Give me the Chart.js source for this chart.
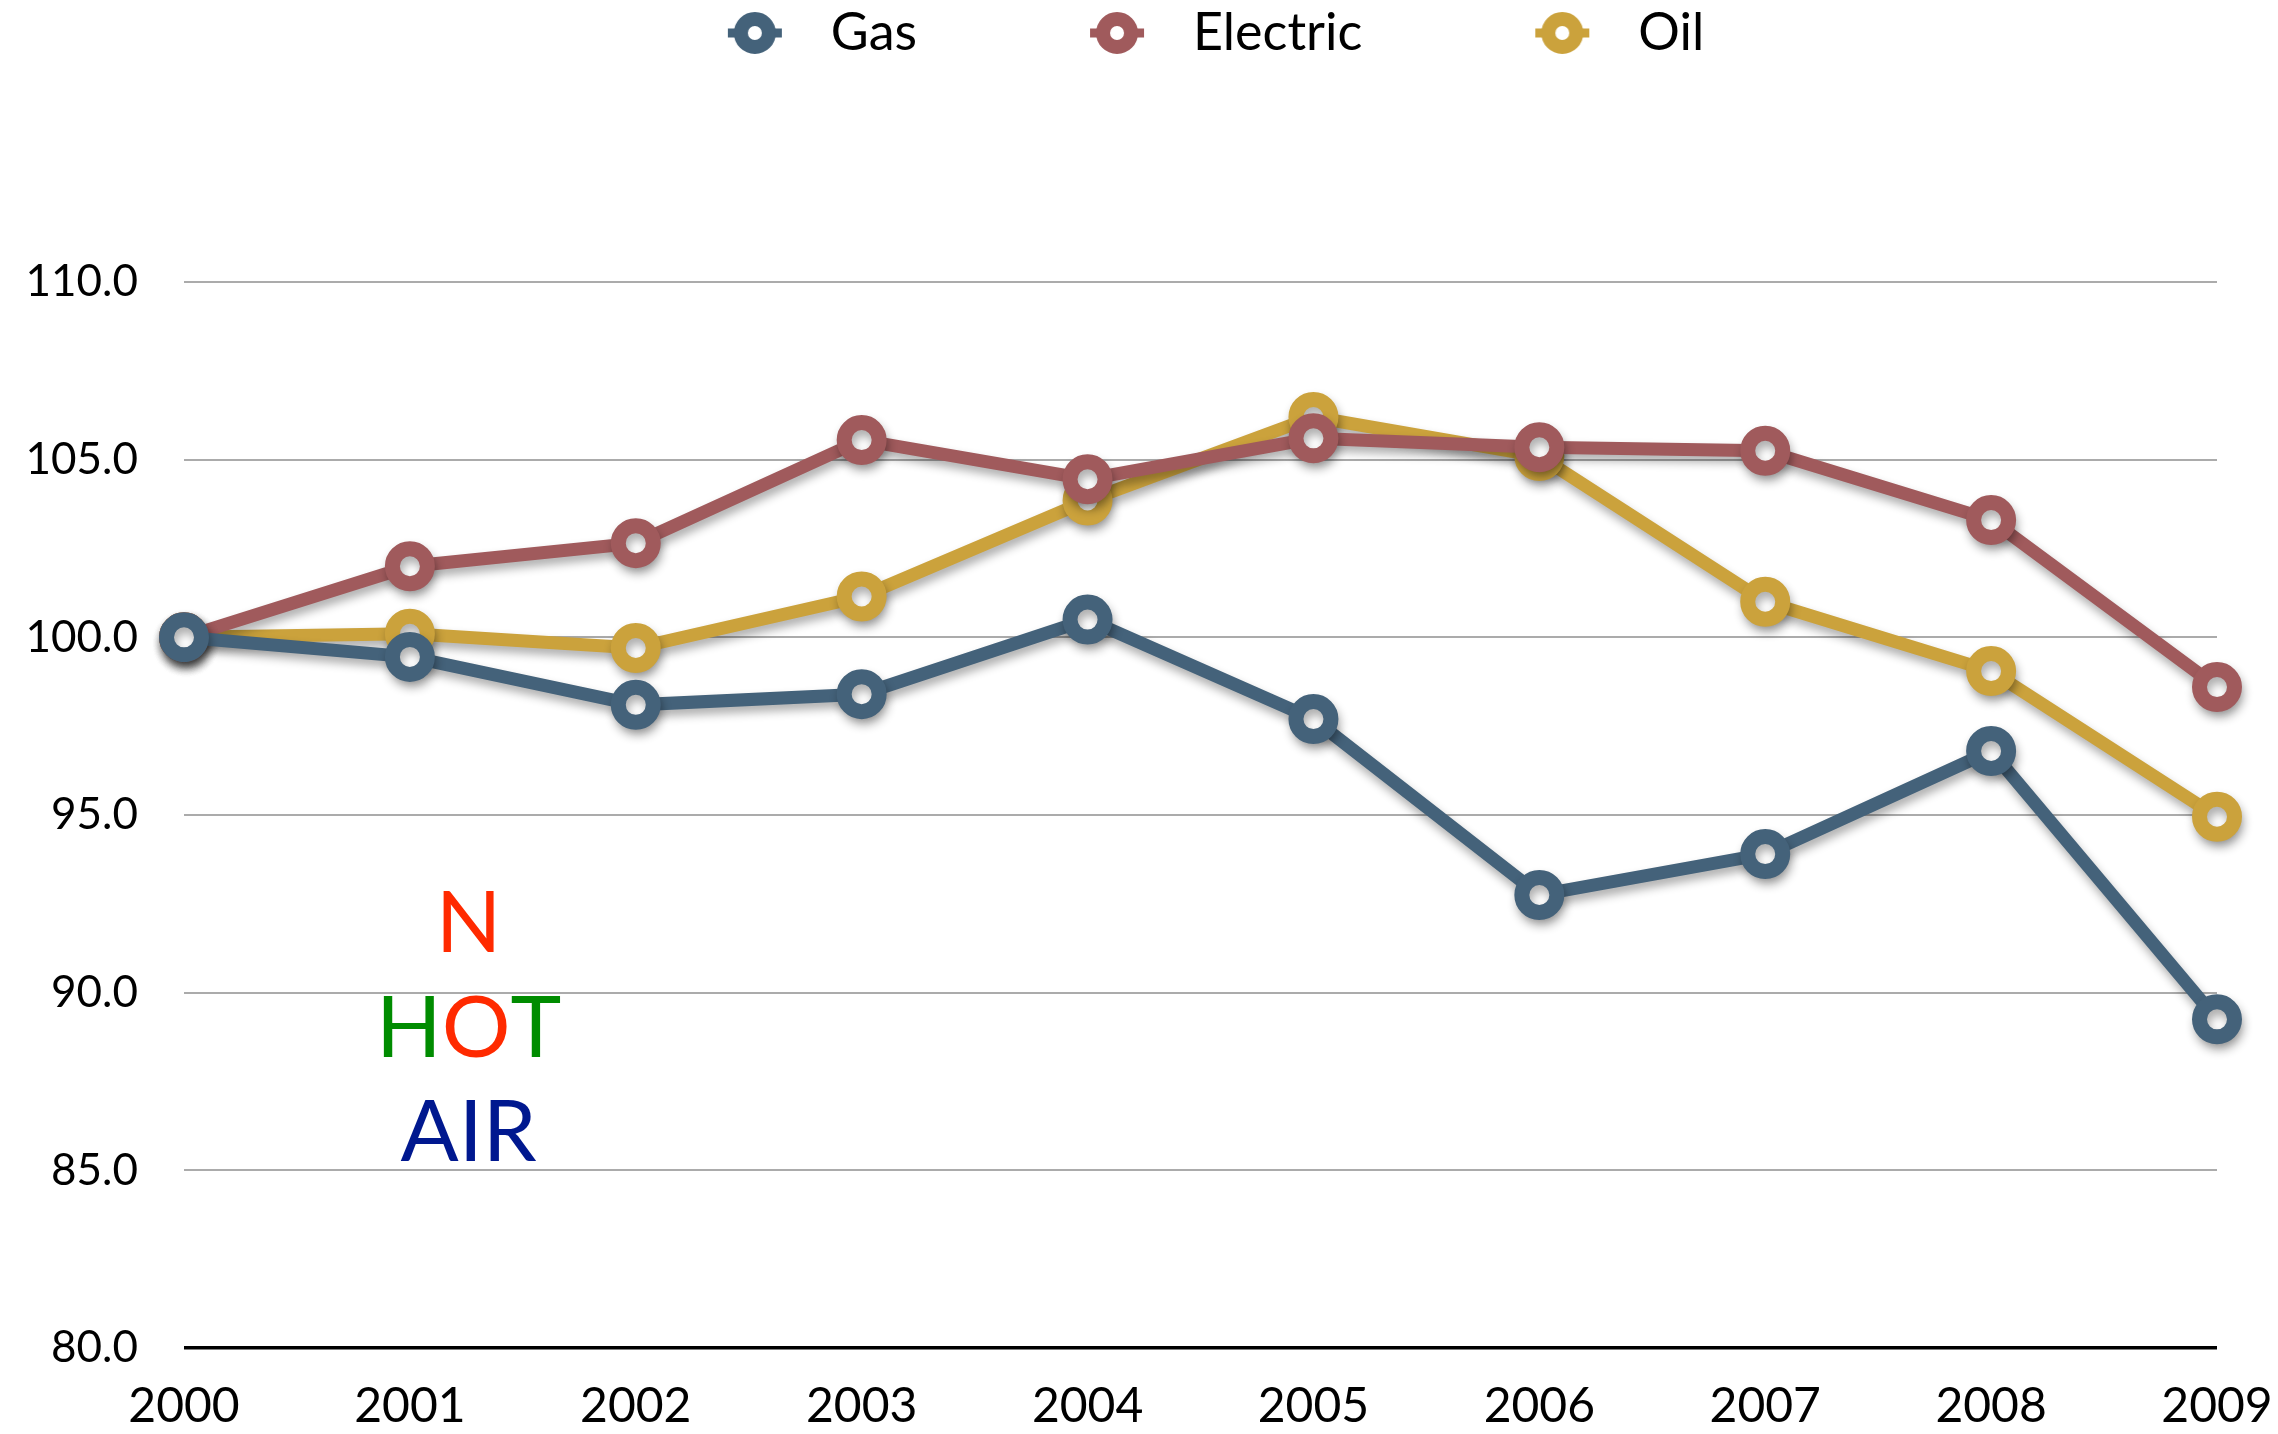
<!DOCTYPE html>
<html>
<head>
<meta charset="utf-8">
<script src="https://cdn.jsdelivr.net/npm/chart.js@4.4.1/dist/chart.umd.min.js"></script>
<style>
  html, body { margin: 0; padding: 0; background: #fff; }
  #wrap { width: 2278px; height: 1434px; }
</style>
</head>
<body>
<div id="wrap"><canvas id="c" width="2278" height="1434"></canvas></div>
<script>
const years = ['2000','2001','2002','2003','2004','2005','2006','2007','2008','2009'];
const gasValues      = [100.0, 99.45, 98.1, 98.4, 100.5, 97.7, 92.75, 93.9, 96.8, 89.25];
const electricValues = [100.0, 102.0, 102.65, 105.55, 104.45, 105.6, 105.35, 105.25, 103.3, 98.6];
const oilValues      = [100.0, 100.1, 99.7, 101.15, 103.85, 106.2, 105.1, 101.0, 99.05, 94.95];
const seriesNames = ['Gas', 'Electric', 'Oil'];
const seriesColors = ['#44627a', '#a05a5c', '#cba23c'];
const yTicks = [80, 85, 90, 95, 100, 105, 110];

const FONT = 'Lato, "Open Sans", sans-serif';

function legendMarker(color) {
  const c = document.createElement('canvas');
  c.width = 58; c.height = 46;
  const g = c.getContext('2d');
  g.strokeStyle = color;
  g.lineWidth = 9;
  g.beginPath(); g.moveTo(2, 23); g.lineTo(56, 23); g.stroke();
  g.beginPath(); g.arc(29, 23, 14, 0, Math.PI * 2);
  g.fillStyle = '#fff'; g.fill();
  g.lineWidth = 14; g.stroke();
  return c;
}
const markers = seriesColors.map(legendMarker);

const shadowPlugin = {
  id: 'shadow',
  beforeDatasetsDraw(chart) {
    const ctx = chart.ctx;
    ctx.save();
    ctx.shadowColor = 'rgba(0,0,0,0.32)';
    ctx.shadowBlur = 10;
    ctx.shadowOffsetX = 2;
    ctx.shadowOffsetY = 6;
  },
  afterDatasetsDraw(chart) { chart.ctx.restore(); }
};

// Legend: wide horizontal item spacing, legend row near the top, chart area starting lower.
const legendLayout = {
  id: 'legendLayout',
  beforeInit(chart) {
    const lg = chart.legend;
    const origFit = lg.fit;
    lg.fit = function () { origFit.apply(lg, arguments); lg.height = 282; };
    const origDraw = lg.draw;
    lg.draw = function () {
      const ctx = chart.ctx;
      ctx.save();
      ctx.translate(4, -143);
      origDraw.apply(lg, arguments);
      ctx.restore();
    };
  }
};

const notePlugin = {
  id: 'note',
  afterDraw(chart) {
    const ctx = chart.ctx, x = chart.scales.x, y = chart.scales.y;
    const cx = x.getPixelForValue(1.26);
    ctx.save();
    ctx.font = '86px ' + FONT;
    ctx.textBaseline = 'middle';
    const lines = [
      { v: 91.93, parts: [['N', '#ff2a00']] },
      { v: 88.97, parts: [['H', '#008c00'], ['O', '#ff2a00'], ['T', '#008c00']] },
      { v: 86.04, parts: [['AIR', '#00188f']] }
    ];
    lines.forEach(l => {
      const total = l.parts.reduce((s, p) => s + ctx.measureText(p[0]).width, 0);
      let px = cx - total / 2;
      const py = y.getPixelForValue(l.v);
      ctx.textAlign = 'left';
      l.parts.forEach(p => {
        ctx.fillStyle = p[1];
        ctx.fillText(p[0], px, py);
        px += ctx.measureText(p[0]).width;
      });
    });
    ctx.restore();
  }
};

function ds(i, data) {
  return {
    label: seriesNames[i],
    data: data,
    borderColor: seriesColors[i],
    backgroundColor: seriesColors[i],
    borderWidth: 13,
    pointRadius: 17.5,
    pointHoverRadius: 17.5,
    pointBorderWidth: 15,
    pointBackgroundColor: '#ffffff',
    pointBorderColor: seriesColors[i],
    tension: 0,
    clip: false
  };
}

new Chart(document.getElementById('c'), {
  type: 'line',
  data: {
    labels: years,
    datasets: [ds(0, gasValues), ds(1, electricValues), ds(2, oilValues)]
  },
  options: {
    responsive: false,
    animation: false,
    events: [],
    layout: { autoPadding: false, padding: { top: 0, left: 0, right: 61, bottom: 0 } },
    plugins: {
      tooltip: { enabled: false },
      legend: {
        position: 'top',
        fullSize: false,
        labels: {
          font: { family: FONT, size: 52 },
          color: '#000',
          usePointStyle: true,
          pointStyleWidth: 100,
          padding: 150,
          generateLabels(chart) {
            const items = Chart.defaults.plugins.legend.labels.generateLabels(chart);
            items.forEach((it, i) => { it.pointStyle = markers[i]; });
            return items;
          }
        }
      }
    },
    scales: {
      x: {
        offset: false,
        grid: { display: false },
        border: { display: false },
        ticks: { font: { family: FONT, size: 48 }, color: '#000', padding: 22, maxRotation: 0, autoSkip: false },
        afterFit(s) { s.height = 86; s.paddingLeft = 0; s.paddingRight = 0; }
      },
      y: {
        min: 80, max: 110,
        afterBuildTicks(s) { s.ticks = yTicks.map(v => ({ value: v })); },
        grid: {
          drawTicks: false,
          color: c => c.tick && c.tick.value === 80 ? '#000000' : '#ababab',
          lineWidth: c => c.tick && c.tick.value === 80 ? 3.5 : 2
        },
        border: { display: false },
        ticks: { font: { family: FONT, size: 44 }, color: '#000', padding: 46, callback: v => Number(v).toFixed(1) },
        afterFit(s) { s.width = 184; s.paddingTop = 0; s.paddingBottom = 0; }
      }
    }
  },
  plugins: [shadowPlugin, legendLayout, notePlugin]
});
</script>
</body>
</html>
